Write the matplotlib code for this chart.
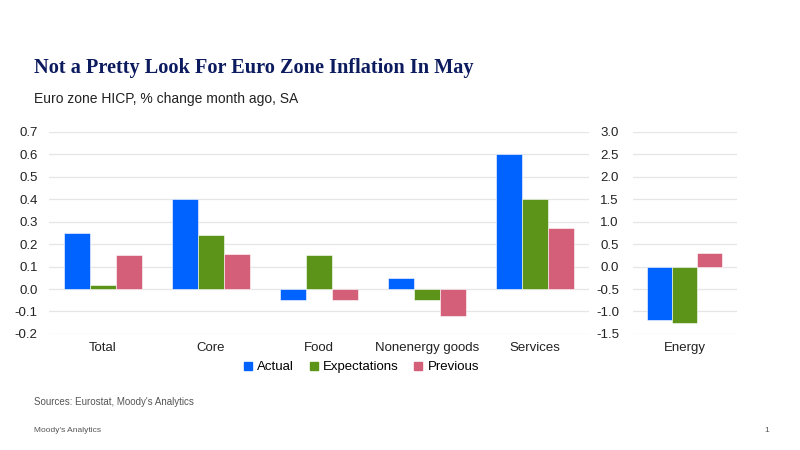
import numpy as np
import matplotlib.pyplot as plt
from matplotlib.lines import Line2D

categories = ["Total", "Core", "Food", "Nonenergy goods", "Services"]
actual = [0.25, 0.40, -0.05, 0.05, 0.60]
expectations = [0.02, 0.24, 0.15, -0.05, 0.40]
previous = [0.15, 0.155, -0.05, -0.12, 0.27]

energy_cat = ["Energy"]
energy_actual = [-1.2]
energy_exp = [-1.25]
energy_prev = [0.3]

series_names = ["Actual", "Expectations", "Previous"]
colors = ["#0062ff", "#5b9419", "#d45f78"]

plt.rcParams["font.family"] = ["Liberation Sans", "DejaVu Sans"]

fig = plt.figure(figsize=(8, 4.5), dpi=100)
ax = fig.add_axes([0.061, 0.258, 0.675, 0.449])
ax2 = fig.add_axes([0.791, 0.258, 0.130, 0.449])

w = 0.24
def draw(a, cats, groups, lim, ticks, fmt):
    x = np.arange(len(cats))
    for i, (vals, c) in enumerate(zip(groups, colors)):
        a.bar(x + (i - 1) * w, vals, w, color=c, edgecolor="white", linewidth=0.4, zorder=3)
    a.set_xticks(x)
    a.set_xticklabels(cats, fontsize=9.5, color="#222222")
    a.set_xlim(-0.5, len(cats) - 0.5)
    a.set_ylim(*lim)
    a.set_yticks(ticks)
    a.set_yticklabels([fmt.format(t) for t in ticks], fontsize=9.5, color="#222222")
    a.yaxis.grid(True, color="#e6e6e6", linewidth=0.9, zorder=0)
    for s in a.spines.values():
        s.set_visible(False)
    a.tick_params(length=0)
    a.tick_params(axis="x", pad=6)
    a.tick_params(axis="y", pad=10)

draw(ax, categories, [actual, expectations, previous], (-0.2, 0.7),
     np.round(np.arange(-0.2, 0.71, 0.1), 1), "{:.1f}")
draw(ax2, energy_cat, [energy_actual, energy_exp, energy_prev], (-1.5, 3.0),
     np.round(np.arange(-1.5, 3.01, 0.5), 1), "{:.1f}")
ax.tick_params(axis="y", pad=8)

handles = [Line2D([], [], marker="s", linestyle="none", markersize=6, color=c) for c in colors]
fig.legend(handles, series_names, loc="center", bbox_to_anchor=(0.451, 0.184), ncol=3,
           frameon=False, fontsize=9.5, handletextpad=0.3, columnspacing=1.1, handlelength=0.8)

fig.text(0.042, 0.838, "Not a Pretty Look For Euro Zone Inflation In May", fontsize=14.6,
         fontweight="bold", color="#0c1a5e", family=["Liberation Serif", "DejaVu Serif"])
fig.text(0.042, 0.77, "Euro zone HICP, % change month ago, SA", fontsize=10, color="#222222")
fig.text(0.042, 0.1, "Sources: Eurostat, Moody's Analytics", fontsize=7, color="#555555")
fig.text(0.042, 0.04, "Moody's Analytics", fontsize=6, color="#555555")
fig.text(0.955, 0.04, "1", fontsize=6, color="#555555")

fig.savefig("out.png", dpi=100)
